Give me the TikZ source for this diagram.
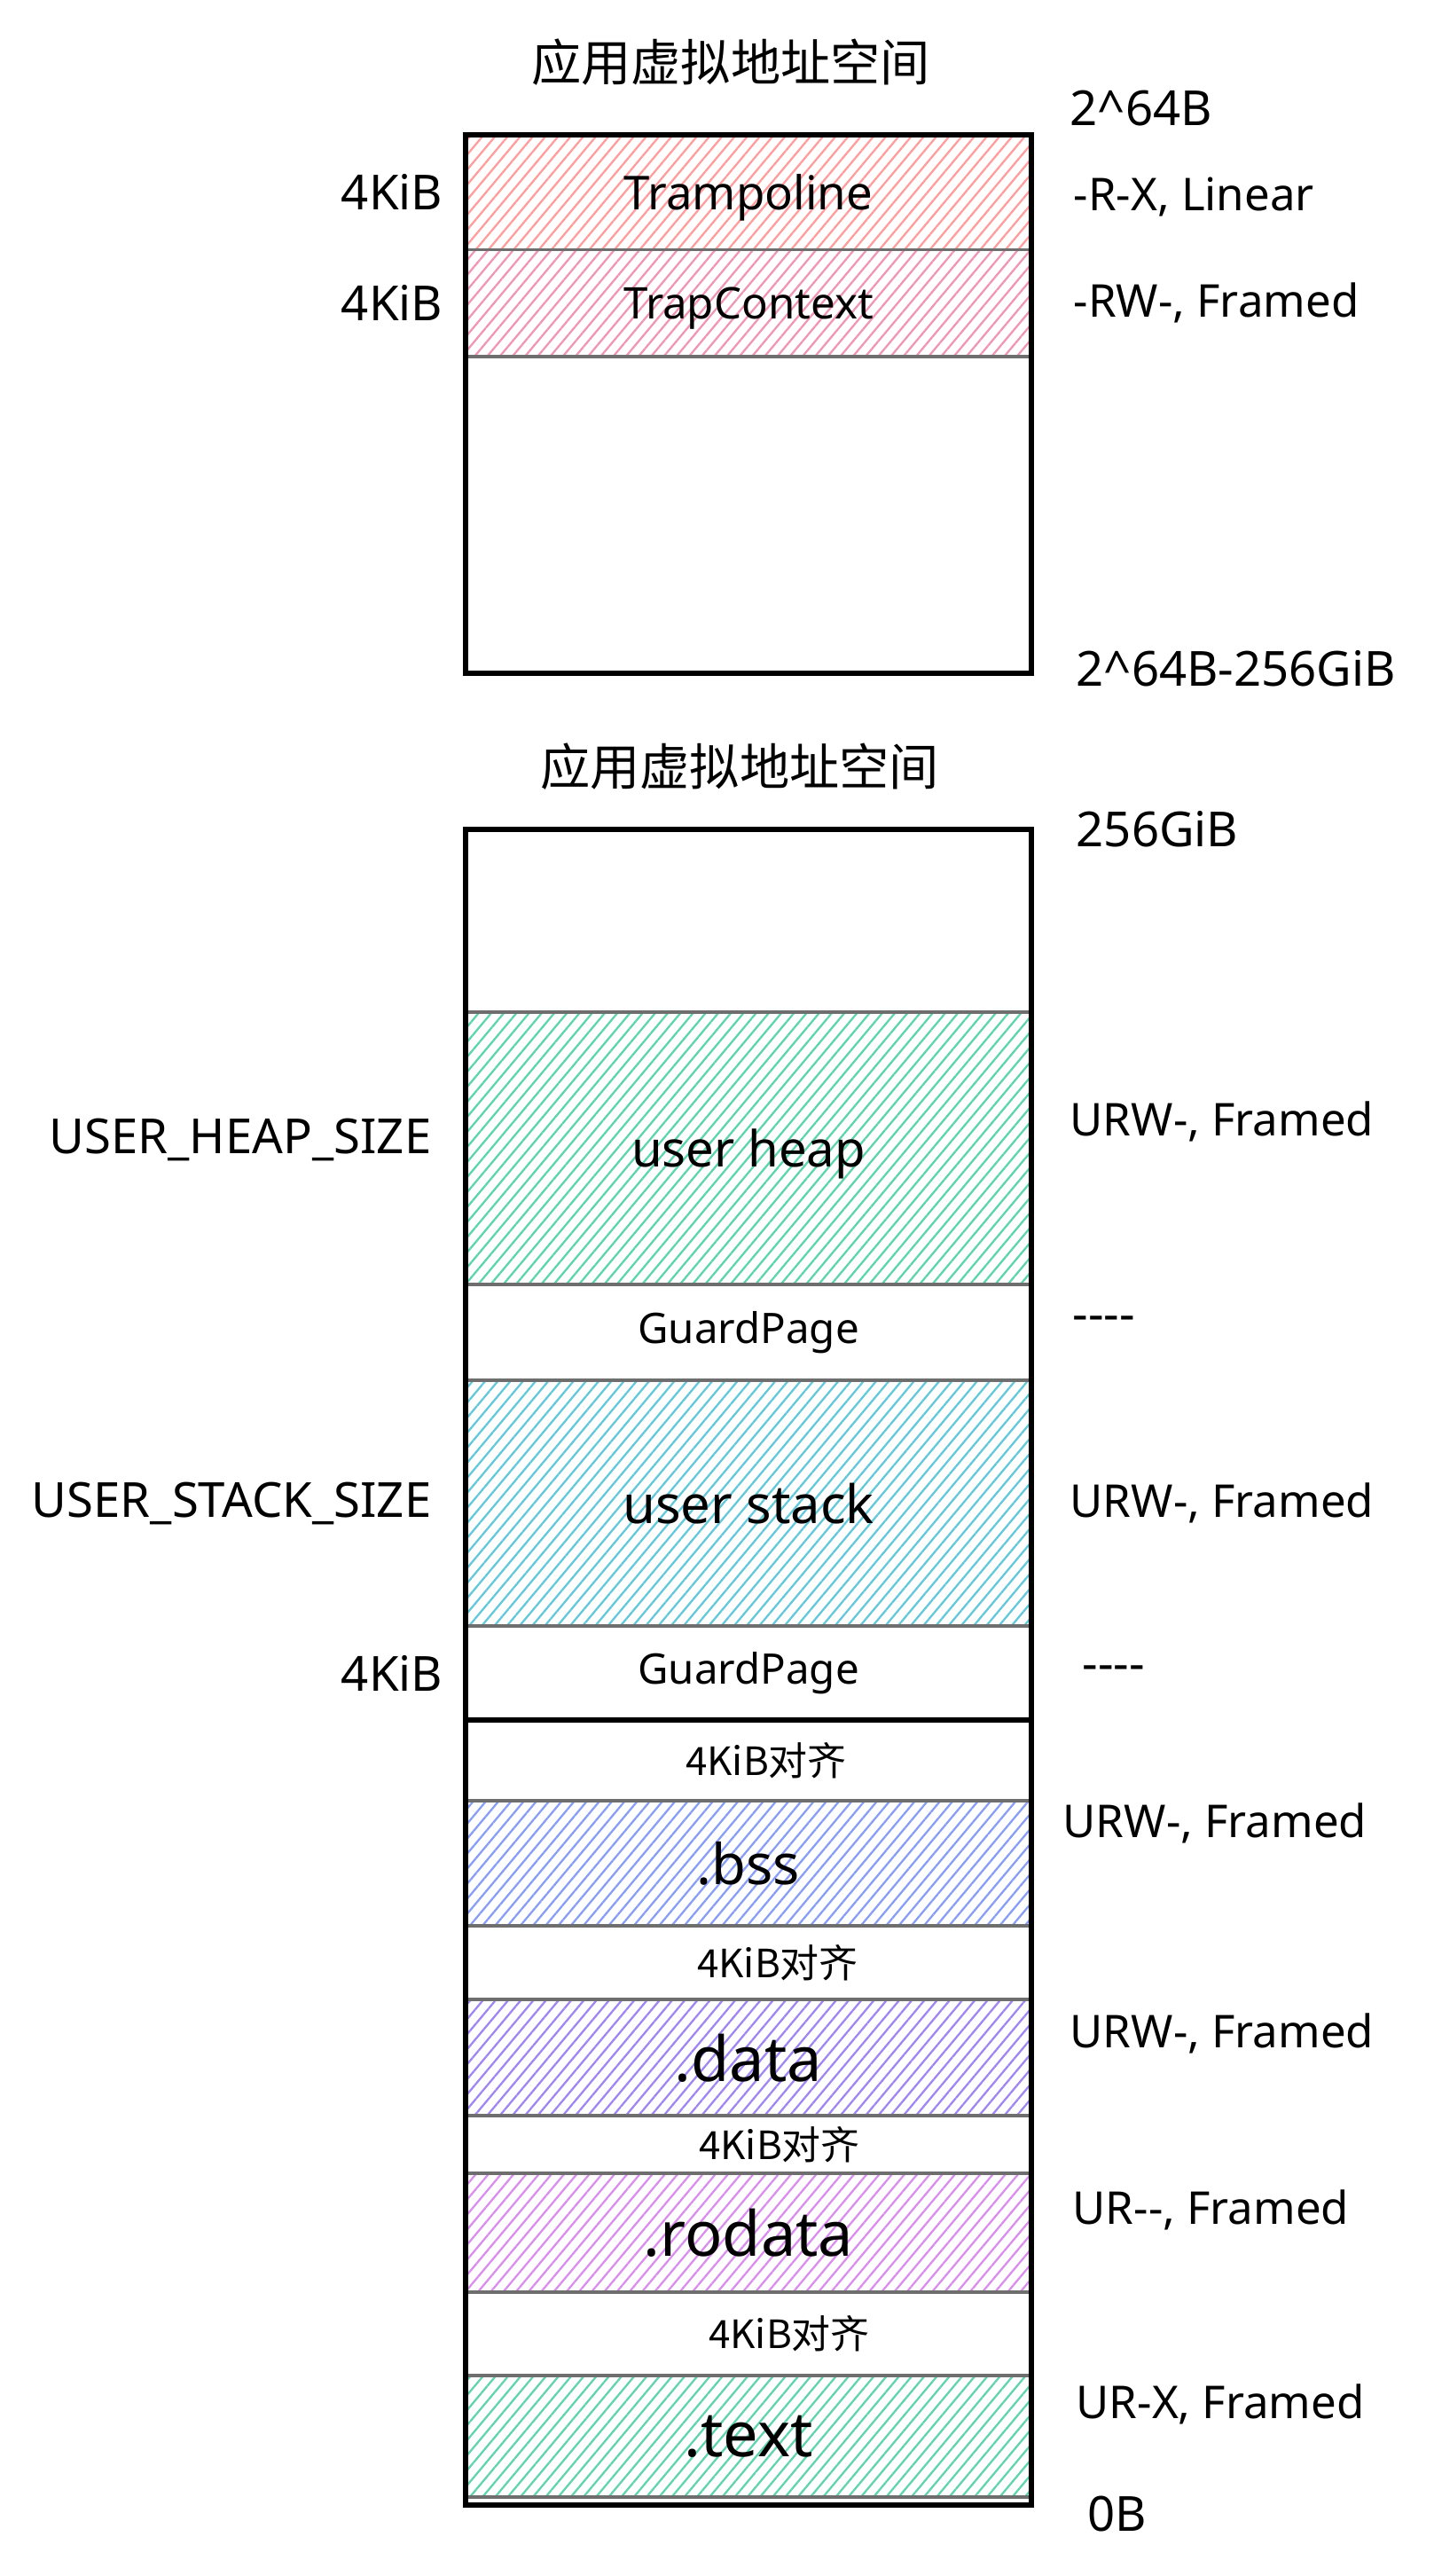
\documentclass[tikz,border=0pt]{standalone}
\usepackage{fontspec}
\setmainfont{Noto Sans}
\newfontfamily\cjk{Noto Sans CJK SC}
\usepackage{tikz}
\usetikzlibrary{fit,positioning,patterns.meta}
\definecolor{segline}{HTML}{6E6E6E}
\definecolor{trampred}{HTML}{FF9C9C}
\definecolor{trappink}{HTML}{F096B4}
\definecolor{heapgreen}{HTML}{5CD4AE}
\definecolor{stackcyan}{HTML}{62C8DA}
\definecolor{bssblue}{HTML}{889EF6}
\definecolor{datapurple}{HTML}{9F86F2}
\definecolor{rodatapink}{HTML}{D98EEE}
\definecolor{textgreen}{HTML}{60D3AF}
\newcommand{\fsz}[1]{\fontsize{#1}{#1}\selectfont}
\tikzset{
    %Define style for hatched segments
    hseg/.style={
           rectangle,
           draw=segline, line width=1.1pt,
           minimum width=6.38cm,
           inner sep=0pt, outer sep=0pt,
           text depth=0pt,
           text centered},
    hatch/.style={
           pattern={Lines[angle=50,distance=3.1pt,line width=0.65pt]},
           pattern color=#1},
    %Define style for empty areas
    blankseg/.style={
           rectangle,
           minimum width=6.38cm,
           inner sep=0pt, outer sep=0pt,
           text centered},
    %Define style for the outer frames
    vaframe/.style={
           rectangle,
           draw=black, line width=1.5pt,
           inner sep=0pt, outer sep=0pt},
    %Define style for texts beside the frames
    sidelbl/.style={
           inner sep=0pt,
           font=\fsz{15.5}},
    flaglbl/.style={
           inner sep=0pt,
           font=\fsz{14.5}},
    vatitle/.style={
           inner sep=0pt,
           font=\cjk\fsz{16}},
    alignlbl/.style={
           inner sep=0pt,
           font=\cjk\fsz{12.5}}
}
\begin{document}
\begin{tikzpicture}[node distance=0pt]
\useasboundingbox (0,0) rectangle (16.17,-29.04);
 %upper space
\node[hseg, hatch=trampred, minimum height=1.295cm, font=\fsz{15}] (tramp) at (8.44,-2.1675) {Trampoline};
\node[hseg, hatch=trappink, minimum height=1.205cm, font=\fsz{14}, below=of tramp] (trapctx) {TrapContext};
\node[blankseg, minimum height=3.57cm, below=of trapctx] (tfree) {};
\node[vaframe, fit=(tramp)(tfree)] (upper) {};

 %lower space
\node[blankseg, minimum height=2.06cm] (ufree) at (8.44,-10.38) {};
\node[hseg, hatch=heapgreen, minimum height=3.07cm, font=\fsz{16}, below=of ufree] (heap) {user heap};
\node[blankseg, minimum height=1.08cm, font=\fsz{13.5}, below=of heap] (guardA) {GuardPage};
\node[hseg, hatch=stackcyan, minimum height=2.77cm, font=\fsz{17}, below=of guardA] (stack) {user stack};
\node[blankseg, minimum height=1.06cm, font=\fsz{13.5}, below=of stack] (guardB) {GuardPage};
\node[blankseg, minimum height=0.91cm, below=of guardB,
      label={[alignlbl, xshift=0.2cm]center:4KiB对齐}] (alignA) {};
\node[hseg, hatch=bssblue, minimum height=1.41cm, font=\fsz{18}, below=of alignA] (bss) {.bss};
\node[blankseg, minimum height=0.83cm, below=of bss,
      label={[alignlbl, xshift=0.33cm]center:4KiB对齐}] (alignB) {};
\node[hseg, hatch=datapurple, minimum height=1.31cm, font=\fsz{20}, below=of alignB] (data) {.data};
\node[blankseg, minimum height=0.65cm, below=of data,
      label={[alignlbl, xshift=0.35cm]center:4KiB对齐}] (alignC) {};
\node[hseg, hatch=rodatapink, minimum height=1.34cm, font=\fsz{20}, below=of alignC] (rodata) {.rodata};
\node[blankseg, minimum height=0.94cm, below=of rodata,
      label={[alignlbl, xshift=0.46cm]center:4KiB对齐}] (alignD) {};
\node[hseg, hatch=textgreen, minimum height=1.37cm, font=\fsz{20}, below=of alignD] (txt) {.text};
\coordinate[below=0.09cm of txt.south] (ubottom);
\node[vaframe, fit=(ufree)(ubottom)] (lower) {};
\draw[line width=1.5pt] (guardB.south west) -- (guardB.south east);

 %titles
\node[vatitle, above=0.55cm of upper, xshift=-0.2cm] (titleU) {应用虚拟地址空间};
\node[vatitle, above=0.44cm of lower, xshift=-0.1cm] (titleL) {应用虚拟地址空间};

 %sizes on the left
\node[sidelbl, left=0.25cm of tramp] (sizeTramp) {4KiB};
\node[sidelbl, left=0.25cm of trapctx] (sizeTrap) {4KiB};
\node[sidelbl, left=0.38cm of heap, yshift=0.1cm] (sizeHeap) {USER\_HEAP\_SIZE};
\node[sidelbl, left=0.38cm of stack] (sizeStack) {USER\_STACK\_SIZE};
\node[sidelbl, left=0.25cm of guardB] (sizeGuard) {4KiB};

 %addresses and flags on the right
\node[sidelbl, right=0.43cm of upper.north east, yshift=0.3cm] (addrTop) {2\textasciicircum 64B};
\node[flaglbl, right=0.47cm of tramp, yshift=-0.05cm] (flagTramp) {-R-X, Linear};
\node[flaglbl, right=0.47cm of trapctx] (flagTrap) {-RW-, Framed};
\node[sidelbl, right=0.5cm of upper.south east, yshift=0.05cm] (addrMid) {2\textasciicircum 64B-256GiB};
\node[sidelbl, right=0.5cm of lower.north east] (addrUser) {256GiB};
\node[flaglbl, right=0.43cm of heap, yshift=0.3cm] (flagHeap) {URW-, Framed};
\node[sidelbl, right=0.46cm of guardA, yshift=0.1cm] (flagGuardA) {-{}-{}-{}-};
\node[flaglbl, right=0.43cm of stack] (flagStack) {URW-, Framed};
\node[sidelbl, right=0.57cm of guardB] (flagGuardB) {-{}-{}-{}-};
\node[flaglbl, right=0.35cm of bss, yshift=0.45cm] (flagBss) {URW-, Framed};
\node[flaglbl, right=0.43cm of data, yshift=0.27cm] (flagData) {URW-, Framed};
\node[flaglbl, right=0.46cm of rodata, yshift=0.26cm] (flagRodata) {UR-{}-, Framed};
\node[flaglbl, right=0.5cm of txt, yshift=0.36cm] (flagText) {UR-X, Framed};
\node[sidelbl, right=0.63cm of lower.south east, yshift=-0.1cm] (addrZero) {0B};
\end{tikzpicture}
\end{document}
